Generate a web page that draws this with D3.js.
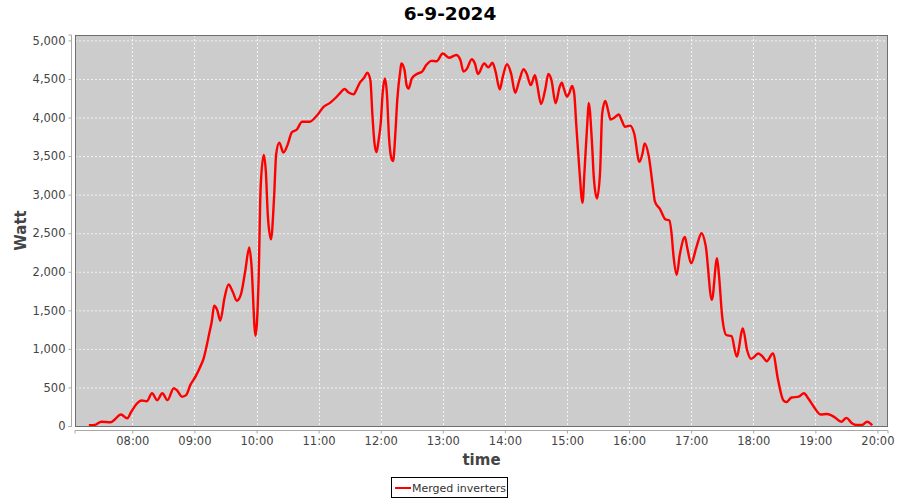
<!DOCTYPE html>
<html>
<head>
<meta charset="utf-8">
<script src="https://cdn.jsdelivr.net/npm/d3@7"></script>
<style>
html,body{margin:0;padding:0;background:#fff;}
text{font-family:"DejaVu Sans",sans-serif;}
</style>
</head>
<body>
<svg id="chart" width="900" height="500"></svg>
<script>
const title = "6-9-2024";
const seriesName = "Merged inverters";
const xLabel = "time";
const yLabel = "Watt";
const times = ["07:18","07:24","07:30","07:39","07:43","07:49","07:55","07:59","08:04","08:09","08:14","08:19","08:24","08:29","08:34","08:40","08:43","08:48","08:52","08:56","09:01","09:05","09:09","09:12","09:14","09:17","09:19","09:22","09:25","09:29","09:33","09:37","09:41","09:45","09:49","09:53","09:55","09:59","10:02","10:04","10:07","10:09","10:11","10:14","10:17","10:19","10:22","10:26","10:30","10:34","10:39","10:44","10:51","10:58","11:05","11:11","11:16","11:21","11:25","11:29","11:34","11:36","11:40","11:44","11:47","11:50","11:52","11:54","11:56","11:58","12:00","12:02","12:04","12:06","12:08","12:10","12:12","12:14","12:16","12:19","12:20","12:23","12:25","12:27","12:30","12:35","12:40","12:44","12:49","12:54","13:00","13:06","13:13","13:17","13:20","13:23","13:28","13:31","13:34","13:40","13:44","13:48","13:51","13:55","13:58","14:02","14:06","14:10","14:14","14:18","14:21","14:25","14:29","14:31","14:35","14:39","14:42","14:45","14:49","14:53","14:55","14:57","15:00","15:02","15:05","15:07","15:09","15:12","15:15","15:17","15:20","15:21","15:24","15:26","15:29","15:32","15:34","15:37","15:40","15:42","15:46","15:50","15:53","15:56","16:01","16:05","16:10","16:13","16:15","16:19","16:23","16:25","16:30","16:35","16:39","16:41","16:43","16:46","16:49","16:54","16:56","17:00","17:05","17:10","17:14","17:20","17:25","17:27","17:30","17:34","17:39","17:44","17:50","17:54","17:58","18:05","18:09","18:13","18:19","18:24","18:29","18:32","18:37","18:44","18:49","18:53","18:58","19:05","19:11","19:15","19:19","19:25","19:30","19:35","19:40","19:45","19:50","19:55"];
const watts = [10,15,55,48,85,150,100,185,285,330,320,425,335,425,335,490,465,380,400,530,640,750,880,1050,1180,1375,1560,1505,1365,1655,1835,1740,1625,1710,2000,2315,2110,1170,1890,3100,3515,3300,2715,2420,2975,3525,3675,3545,3645,3805,3845,3945,3945,4020,4140,4190,4250,4320,4370,4325,4300,4345,4455,4515,4580,4485,4030,3665,3550,3710,3925,4335,4505,4310,3750,3490,3435,3760,4225,4615,4700,4615,4420,4375,4505,4565,4595,4680,4735,4730,4830,4775,4810,4745,4595,4625,4755,4700,4565,4700,4650,4710,4595,4365,4530,4690,4570,4320,4485,4625,4570,4420,4550,4440,4175,4365,4565,4485,4185,4400,4450,4375,4270,4310,4410,4310,3900,3320,2895,3320,4010,4190,3710,3210,2950,3300,4050,4215,4075,3975,4000,4040,3960,3880,3895,3790,3425,3535,3665,3500,3100,2910,2810,2680,2665,2500,2195,1960,2220,2450,2325,2110,2315,2500,2340,1635,2175,1935,1415,1180,1165,900,1265,985,870,940,900,840,940,595,335,310,370,380,425,360,260,150,155,140,110,55,105,40,13,13,55,10];
const xTicks = ["08:00","09:00","10:00","11:00","12:00","13:00","14:00","15:00","16:00","17:00","18:00","19:00","20:00"];
const yTicks = [0,500,1000,1500,2000,2500,3000,3500,4000,4500,5000];
const xDomain = ["07:04:36","20:10:12"];
const yMax = 5070;

const parseHM = d3.timeParse("%H:%M");
const parseHMS = d3.timeParse("%H:%M:%S");
const data = times.map((t,i)=>({t:parseHM(t), v:watts[i]}));

const svg = d3.select("#chart");
const L=75, R=888, T=35, B=426;

const x = d3.scaleTime().domain(xDomain.map(parseHMS)).range([L,R]);
const y = d3.scaleLinear().domain([0,yMax]).range([B,T]);

// title
svg.append("text").attr("x",450).attr("y",20).attr("text-anchor","middle")
  .attr("font-size","18.5px").attr("font-weight","bold").attr("fill","#000").text(title);

// plot background
svg.append("rect").attr("x",L).attr("y",T).attr("width",R-L).attr("height",B-T)
  .attr("fill","#cccccc");

// gridlines
const g = svg.append("g");
g.selectAll(".hg").data(yTicks).enter().append("line")
  .attr("x1",L).attr("x2",R).attr("y1",d=>y(d)+0.5).attr("y2",d=>y(d)+0.5)
  .attr("stroke","#ffffff").attr("stroke-opacity",0.75).attr("stroke-width",1).attr("stroke-dasharray","2,2");
g.selectAll(".vg").data(xTicks.map(parseHM)).enter().append("line")
  .attr("y1",T).attr("y2",B).attr("x1",d=>Math.round(x(d))+0.5).attr("x2",d=>Math.round(x(d))+0.5)
  .attr("stroke","#ffffff").attr("stroke-opacity",0.75).attr("stroke-width",1).attr("stroke-dasharray","2,2");

// series
const line = d3.line().x(d=>x(d.t)).y(d=>y(d.v)).curve(d3.curveMonotoneX);
svg.append("path").datum(data).attr("d",line).attr("fill","none")
  .attr("stroke","#ff0000").attr("stroke-width",2.4).attr("stroke-linejoin","round");

// plot border
svg.append("rect").attr("x",L+0.5).attr("y",T+0.5).attr("width",R-L-1).attr("height",B-T)
  .attr("fill","none").attr("stroke","#6e6e6e").attr("stroke-width",1);

// axes
const yAxis = d3.axisLeft(y).tickValues(yTicks).tickSize(3).tickPadding(3).tickFormat(d3.format(","));
const ya = svg.append("g").attr("transform","translate(71.5,0)").call(yAxis);
const xAxis = d3.axisBottom(x).tickValues(xTicks.map(parseHM)).tickSize(3).tickPadding(3).tickFormat(d3.timeFormat("%H:%M"));
const xa = svg.append("g").attr("transform","translate(0,430.5)").call(xAxis);
[ya,xa].forEach(a=>{
  a.select(".domain").attr("stroke","#a8a8a8");
  a.selectAll(".tick line").attr("stroke","#a8a8a8");
  a.selectAll(".tick text").attr("fill","#444").attr("font-size","11.5px").attr("font-family","DejaVu Sans, sans-serif");
});
ya.select(".domain").attr("d",`M-3,${T}H0V${B+0.5}H-3`);
xa.select(".domain").attr("d",`M${L},3V0H${R}V3`);

// axis titles
svg.append("text").attr("x",(L+R)/2).attr("y",465).attr("text-anchor","middle")
  .attr("font-size","15px").attr("font-weight","bold").attr("fill","#444").text(xLabel);
svg.append("text").attr("transform",`translate(26,${(T+B)/2}) rotate(-90)`).attr("text-anchor","middle")
  .attr("font-size","15px").attr("font-weight","bold").attr("fill","#444").text(yLabel);

// legend
const lg = svg.append("g");
lg.append("rect").attr("x",391.5).attr("y",477.5).attr("width",116).attr("height",20)
  .attr("fill","#fff").attr("stroke","#000").attr("stroke-width",1);
lg.append("line").attr("x1",395).attr("x2",411).attr("y1",488).attr("y2",488)
  .attr("stroke","#ff0000").attr("stroke-width",2);
lg.append("text").attr("x",412).attr("y",492).attr("font-size","11px").attr("fill","#333").text(seriesName);
</script>
</body>
</html>
